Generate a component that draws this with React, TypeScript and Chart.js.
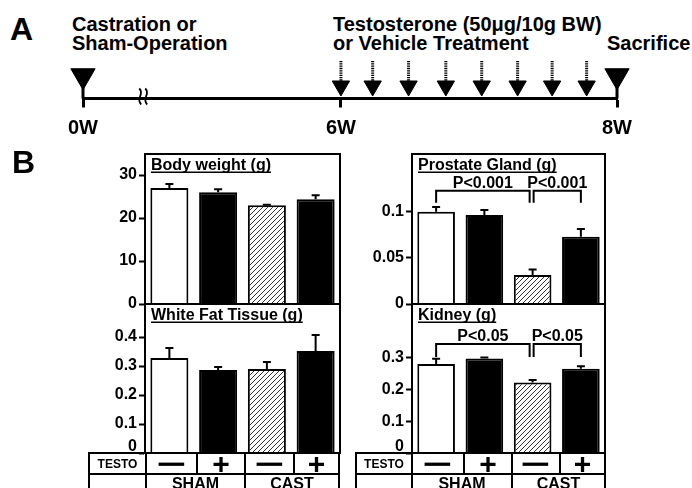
import React, { useEffect, useRef } from 'react';
import { Chart, registerables, LinearScale } from 'chart.js';

Chart.register(...registerables);

const FONT = '"Liberation Sans", Arial, Helvetica, sans-serif';

// ---------------- Panel A: timeline (weeks) ----------------
const TIMELINE_TICKS = [0, 6, 8];
const TIMELINE_EVENTS = [0, 8]; // castration / sham-operation, sacrifice
const INJECTION_WEEKS = [6.0, 6.23, 6.49, 6.76, 7.02, 7.28, 7.53, 7.78];
const BREAK_MARK_WEEK = 1.4;

// ---------------- Panel B: organ weights ----------------
const CATEGORIES = ['SHAM −', 'SHAM +', 'CAST −', 'CAST +'];
const TESTO = ['−', '+', '−', '+'];
const GROUPS = ['SHAM', 'CAST'];

const BODY_WEIGHT = [27.0, 26.0, 23.0, 24.4];
const BODY_WEIGHT_SEM = [0.9, 0.7, 0.1, 0.9];
const BODY_WEIGHT_TICKS = [0, 10, 20, 30];

const FAT = [0.328, 0.286, 0.29, 0.352];
const FAT_SEM = [0.034, 0.011, 0.024, 0.055];
const FAT_TICKS = [0, 0.1, 0.2, 0.3, 0.4];

const PROSTATE = [0.1003, 0.0967, 0.0315, 0.0732];
const PROSTATE_SEM = [0.005, 0.0055, 0.006, 0.0083];
const PROSTATE_TICKS = [0, 0.05, 0.1];
const PROSTATE_BRACKETS = [
  { from: 0, to: 2, label: 'P<0.001' },
  { from: 2, to: 3, label: 'P<0.001' },
];
const PROSTATE_BRACKET_LEVEL = 0.123;
const PROSTATE_BRACKET_FOOT = 0.11;

const KIDNEY = [0.281, 0.298, 0.222, 0.266];
const KIDNEY_SEM = [0.016, 0.003, 0.008, 0.008];
const KIDNEY_TICKS = [0, 0.1, 0.2, 0.3];
const KIDNEY_BRACKETS = [
  { from: 0, to: 2, label: 'P<0.05' },
  { from: 2, to: 3, label: 'P<0.05' },
];
const KIDNEY_BRACKET_LEVEL = 0.344;
const KIDNEY_BRACKET_FOOT = 0.303;

// ---------------- layout / style constants ----------------
const BREAK_WEEK = 6;
const BREAK_FRACTION = 0.483;
const EVENT_LEVEL = 0.5;
const INJECTION_LEVEL = 0.275;
const STEM_TOP_LEVEL = 0.825;

class BrokenTimeScale extends LinearScale {
  static id = 'brokenTime';
  static defaults = {};
  getPixelForValue(value: number) {
    const min = (this as any).min as number;
    const max = (this as any).max as number;
    const dec =
      value <= BREAK_WEEK
        ? ((value - min) / (BREAK_WEEK - min)) * BREAK_FRACTION
        : BREAK_FRACTION + ((value - BREAK_WEEK) / (max - BREAK_WEEK)) * (1 - BREAK_FRACTION);
    return (this as any).getPixelForDecimal(dec);
  }
  getValueForPixel(pixel: number) {
    const min = (this as any).min as number;
    const max = (this as any).max as number;
    const dec = (this as any).getDecimalForPixel(pixel);
    if (dec <= BREAK_FRACTION) return min + (dec / BREAK_FRACTION) * (BREAK_WEEK - min);
    return BREAK_WEEK + ((dec - BREAK_FRACTION) / (1 - BREAK_FRACTION)) * (max - BREAK_WEEK);
  }
}
Chart.register(BrokenTimeScale as any);

const timelinePlugin = {
  id: 'timelineDecor',
  afterDatasetsDraw(chart: any) {
    const ctx = chart.ctx;
    const xs = chart.scales.x;
    const ys = chart.scales.y;
    const axisY = chart.chartArea.bottom;
    ctx.save();
    ctx.strokeStyle = '#000';
    // event stems
    ctx.lineWidth = 3;
    chart.getDatasetMeta(0).data.forEach((el: any) => {
      ctx.beginPath();
      ctx.moveTo(el.x, el.y);
      ctx.lineTo(el.x, axisY);
      ctx.stroke();
    });
    // injection dotted stems
    const stemTop = ys.getPixelForValue(STEM_TOP_LEVEL);
    ctx.setLineDash([1.3, 1]);
    ctx.lineWidth = 3;
    chart.getDatasetMeta(1).data.forEach((el: any) => {
      const r = el.options.radius;
      ctx.beginPath();
      ctx.moveTo(el.x, stemTop);
      ctx.lineTo(el.x, el.y - r * 0.5);
      ctx.stroke();
    });
    ctx.setLineDash([]);
    // break mark
    const bx = xs.getPixelForValue(BREAK_MARK_WEEK);
    ctx.lineWidth = 1.8;
    [-3, 3].forEach((dx) => {
      const x = bx + dx;
      ctx.beginPath();
      ctx.moveTo(x - 1, axisY - 10);
      ctx.bezierCurveTo(x + 5, axisY - 5, x - 5, axisY, x + 1, axisY + 6);
      ctx.stroke();
    });
    ctx.restore();
  },
};

function timelineConfig(): any {
  return {
    type: 'scatter',
    data: {
      datasets: [
        {
          data: TIMELINE_EVENTS.map((w) => ({ x: w, y: EVENT_LEVEL })),
          pointStyle: 'triangle',
          rotation: 180,
          pointRadius: 14,
          backgroundColor: '#000',
          borderColor: '#000',
          borderWidth: 1,
          clip: false,
        },
        {
          data: INJECTION_WEEKS.map((w) => ({ x: w, y: INJECTION_LEVEL })),
          pointStyle: 'triangle',
          rotation: 180,
          pointRadius: 10,
          backgroundColor: '#000',
          borderColor: '#000',
          borderWidth: 1,
          clip: false,
        },
      ],
    },
    options: {
      responsive: false,
      animation: false,
      events: [],
      layout: { padding: { left: 83, right: 75, top: 53, bottom: 2 } },
      plugins: { legend: { display: false }, tooltip: { enabled: false } },
      scales: {
        x: {
          type: 'brokenTime',
          min: 0,
          max: 8,
          bounds: 'data',
          afterBuildTicks: (s: any) => {
            s.ticks = TIMELINE_TICKS.map((v) => ({ value: v }));
          },
          ticks: {
            callback: (v: any) => v + 'W',
            font: { family: FONT, size: 20, weight: 'bold' },
            color: '#000',
            padding: 9,
            autoSkip: false,
            maxRotation: 0,
          },
          grid: { display: true, drawOnChartArea: false, drawTicks: true, tickLength: 9, tickWidth: 3, tickColor: '#000' },
          border: { display: true, width: 3, color: '#000' },
        },
        y: { display: false, min: 0, max: 1 },
      },
    },
    plugins: [timelinePlugin],
  };
}

function makeHatch(): CanvasPattern | string {
  const c = document.createElement('canvas');
  const s = 5;
  c.width = s;
  c.height = s;
  const g = c.getContext('2d');
  if (!g) return '#ccc';
  g.fillStyle = '#fff';
  g.fillRect(0, 0, s, s);
  g.strokeStyle = '#333';
  g.lineWidth = 1;
  g.beginPath();
  g.moveTo(-1, s + 1);
  g.lineTo(s + 1, -1);
  g.moveTo(-1, 1);
  g.lineTo(1, -1);
  g.moveTo(s - 1, s + 1);
  g.lineTo(s + 1, s - 1);
  g.stroke();
  return g.createPattern(c, 'repeat') || '#ccc';
}

type Bracket = { from: number; to: number; label: string };
type PanelSpec = {
  title: string;
  values: number[];
  sem: number[];
  ticks: number[];
  max: number;
  liftZero?: boolean;
  brackets?: Bracket[];
  bracketLevel?: number;
  bracketFoot?: number;
};

function panelPlugin(p: PanelSpec) {
  return {
    id: 'panelDecor',
    afterDatasetsDraw(chart: any) {
      const ctx = chart.ctx;
      const { left, top, right, bottom } = chart.chartArea;
      const xs = chart.scales.x;
      const ys = chart.scales.y;
      ctx.save();
      ctx.strokeStyle = '#000';
      ctx.fillStyle = '#000';
      ctx.lineWidth = 2;
      // error bars (upper only)
      chart.getDatasetMeta(0).data.forEach((el: any, i: number) => {
        const yErr = ys.getPixelForValue(p.values[i] + p.sem[i]);
        ctx.beginPath();
        ctx.moveTo(el.x, el.y);
        ctx.lineTo(el.x, yErr);
        ctx.moveTo(el.x - 4, yErr);
        ctx.lineTo(el.x + 4, yErr);
        ctx.stroke();
      });
      // frame
      ctx.strokeRect(left, top, right - left, bottom - top);
      // title, underlined
      ctx.font = `bold 16px ${FONT}`;
      ctx.textAlign = 'left';
      ctx.textBaseline = 'alphabetic';
      const tx = left + 6;
      const ty = top + 16;
      ctx.fillText(p.title, tx, ty);
      const w = ctx.measureText(p.title).width;
      ctx.fillRect(tx, ty + 1.5, w, 1.5);
      // significance brackets
      const brs = p.brackets || [];
      brs.forEach((b) => {
        let x1 = xs.getPixelForValue(b.from);
        let x2 = xs.getPixelForValue(b.to);
        if (brs.some((o) => o !== b && o.from === b.to)) x2 -= 3;
        if (brs.some((o) => o !== b && o.to === b.from)) x1 += 1;
        const yL = ys.getPixelForValue(p.bracketLevel as number);
        const yF = ys.getPixelForValue(p.bracketFoot as number);
        ctx.beginPath();
        ctx.moveTo(x1, yF);
        ctx.lineTo(x1, yL);
        ctx.lineTo(x2, yL);
        ctx.lineTo(x2, yF);
        ctx.stroke();
        ctx.textAlign = 'center';
        ctx.fillText(b.label, (x1 + x2) / 2, yL - 3);
      });
      ctx.restore();
    },
  };
}

type Col = { left: number; width: number; axisWidth: number; padRight: number };
type Row = { top: number; height: number; padTop: number; padBottom: number };

const LEFT_COL: Col = { left: 80, width: 270, axisWidth: 65, padRight: 10 };
const RIGHT_COL: Col = { left: 346, width: 270, axisWidth: 66, padRight: 11 };
const TOP_ROW: Row = { top: 140, height: 180, padTop: 14, padBottom: 16 };
const BOTTOM_ROW: Row = { top: 290, height: 180, padTop: 14, padBottom: 17 };

function barConfig(p: PanelSpec, col: Col, row: Row): any {
  return {
    type: 'bar',
    data: {
      labels: CATEGORIES,
      datasets: [
        {
          data: p.values,
          backgroundColor: ['#fff', '#000', makeHatch(), '#000'],
          borderColor: '#000',
          borderWidth: 2,
          borderSkipped: 'start',
          barPercentage: 0.78,
          categoryPercentage: 1,
        },
      ],
    },
    options: {
      responsive: false,
      animation: false,
      events: [],
      layout: { padding: { left: 0, right: col.padRight, top: row.padTop, bottom: row.padBottom } },
      plugins: { legend: { display: false }, tooltip: { enabled: false } },
      scales: {
        x: { display: false },
        y: {
          min: 0,
          max: p.max,
          bounds: 'data',
          afterFit: (s: any) => {
            s.width = col.axisWidth;
          },
          afterBuildTicks: (s: any) => {
            s.ticks = p.ticks.map((v) => ({ value: v }));
          },
          ticks: {
            // the zero label of the lower panels sits just above the table line
            callback: (v: any) => (p.liftZero && v === 0 ? ['0', ''] : String(v)),
            font: { family: FONT, size: 16, weight: 'bold', lineHeight: 0.8 },
            color: '#000',
            padding: 2,
          },
          grid: { display: true, drawOnChartArea: false, drawTicks: true, tickLength: 6, tickWidth: 2, tickColor: '#000' },
          border: { display: true, width: 2, color: '#000' },
        },
      },
    },
    plugins: [panelPlugin(p)],
  };
}

function ChartCanvas({ left, top, width, height, make }: { left: number; top: number; width: number; height: number; make: () => any }) {
  const ref = useRef<HTMLCanvasElement>(null);
  useEffect(() => {
    if (!ref.current) return;
    const chart = new Chart(ref.current, make());
    return () => chart.destroy();
  }, []);
  return <canvas ref={ref} width={width} height={height} style={{ position: 'absolute', left, top, width, height }} />;
}

const LEFT_TABLE_X = [89, 146, 197, 245, 294, 339];
const RIGHT_TABLE_X = [356, 412, 464, 512, 560, 605];
const TABLE_Y = [453, 474, 500];

function Cell({ x1, x2, y1, y2, children, style }: any) {
  return (
    <div
      style={{
        position: 'absolute',
        left: x1 - 1,
        top: y1 - 1,
        width: x2 - x1 + 2,
        height: y2 - y1 + 2,
        border: '2px solid #000',
        boxSizing: 'border-box',
        display: 'flex',
        justifyContent: 'center',
        alignItems: 'center',
        fontFamily: FONT,
        fontWeight: 'bold',
        color: '#000',
        overflow: 'visible',
        ...style,
      }}
    >
      {children}
    </div>
  );
}

function Table({ xs }: { xs: number[] }) {
  const [r0, r1, r2] = TABLE_Y;
  return (
    <>
      <Cell x1={xs[0]} x2={xs[1]} y1={r0} y2={r1} style={{ fontSize: 12, lineHeight: '14px' }}>
        TESTO
      </Cell>
      {TESTO.map((t, i) => (
        <Cell key={i} x1={xs[i + 1]} x2={xs[i + 2]} y1={r0} y2={r1} style={{ fontSize: 30, lineHeight: '30px' }}>
          <span style={{ display: 'inline-block', transform: t === '−' ? 'scaleX(1.7)' : 'none' }}>{t}</span>
        </Cell>
      ))}
      <Cell x1={xs[0]} x2={xs[1]} y1={r1} y2={r2} />
      {GROUPS.map((g, i) => (
        <Cell
          key={g}
          x1={xs[1 + i * 2]}
          x2={xs[3 + i * 2]}
          y1={r1}
          y2={r2}
          style={{ fontSize: 16, lineHeight: '18px', alignItems: 'flex-start' }}
        >
          {g}
        </Cell>
      ))}
    </>
  );
}

const textStyle: React.CSSProperties = {
  position: 'absolute',
  fontFamily: FONT,
  fontWeight: 'bold',
  color: '#000',
  whiteSpace: 'nowrap',
};

export default function App() {
  const bodySpec: PanelSpec = { title: 'Body weight (g)', values: BODY_WEIGHT, sem: BODY_WEIGHT_SEM, ticks: BODY_WEIGHT_TICKS, max: 34.9 };
  const fatSpec: PanelSpec = { title: 'White Fat Tissue (g)', values: FAT, sem: FAT_SEM, ticks: FAT_TICKS, max: 0.514, liftZero: true };
  const prostateSpec: PanelSpec = {
    title: 'Prostate Gland (g)',
    values: PROSTATE,
    sem: PROSTATE_SEM,
    ticks: PROSTATE_TICKS,
    max: 0.163,
    brackets: PROSTATE_BRACKETS,
    bracketLevel: PROSTATE_BRACKET_LEVEL,
    bracketFoot: PROSTATE_BRACKET_FOOT,
  };
  const kidneySpec: PanelSpec = {
    title: 'Kidney (g)',
    values: KIDNEY,
    sem: KIDNEY_SEM,
    ticks: KIDNEY_TICKS,
    max: 0.47,
    liftZero: true,
    brackets: KIDNEY_BRACKETS,
    bracketLevel: KIDNEY_BRACKET_LEVEL,
    bracketFoot: KIDNEY_BRACKET_FOOT,
  };

  return (
    <div style={{ position: 'absolute', left: 0, top: 0, width: 692, height: 488, overflow: 'hidden', background: '#fff' }}>
      <div style={{ ...textStyle, left: 10, top: 13, fontSize: 32, lineHeight: '32px' }}>A</div>
      <div style={{ ...textStyle, left: 72, top: 15, fontSize: 20, lineHeight: '19px' }}>
        Castration or
        <br />
        Sham-Operation
      </div>
      <div style={{ ...textStyle, left: 333, top: 15, fontSize: 20, lineHeight: '19px' }}>
        Testosterone (50μg/10g BW)
        <br />
        or Vehicle Treatment
      </div>
      <div style={{ ...textStyle, left: 607, top: 34, fontSize: 20, lineHeight: '19px' }}>Sacrifice</div>
      <ChartCanvas left={0} top={0} width={692} height={146} make={timelineConfig} />

      <div style={{ ...textStyle, left: 12, top: 146, fontSize: 32, lineHeight: '32px' }}>B</div>

      <ChartCanvas left={LEFT_COL.left} top={TOP_ROW.top} width={LEFT_COL.width} height={TOP_ROW.height} make={() => barConfig(bodySpec, LEFT_COL, TOP_ROW)} />
      <ChartCanvas left={LEFT_COL.left} top={BOTTOM_ROW.top} width={LEFT_COL.width} height={BOTTOM_ROW.height} make={() => barConfig(fatSpec, LEFT_COL, BOTTOM_ROW)} />
      <ChartCanvas left={RIGHT_COL.left} top={TOP_ROW.top} width={RIGHT_COL.width} height={TOP_ROW.height} make={() => barConfig(prostateSpec, RIGHT_COL, TOP_ROW)} />
      <ChartCanvas left={RIGHT_COL.left} top={BOTTOM_ROW.top} width={RIGHT_COL.width} height={BOTTOM_ROW.height} make={() => barConfig(kidneySpec, RIGHT_COL, BOTTOM_ROW)} />

      <Table xs={LEFT_TABLE_X} />
      <Table xs={RIGHT_TABLE_X} />
    </div>
  );
}
